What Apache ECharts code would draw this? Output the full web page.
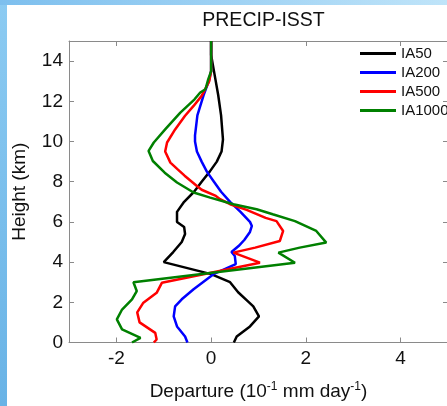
<!DOCTYPE html>
<html><head><meta charset="utf-8">
<script src="https://cdn.jsdelivr.net/npm/echarts@6/dist/echarts.min.js"></script>
<style>
html,body{margin:0;padding:0;width:447px;height:406px;overflow:hidden;background:#fff;}
#lb{position:absolute;left:0;top:0;width:7px;height:406px;background:linear-gradient(180deg,#8ccbf2,#69b3e6);}
#tb{position:absolute;left:0;top:0;width:447px;height:5px;background:linear-gradient(90deg,#7dbfee,#bfe4f9);}
#c{position:absolute;left:0;top:0;width:460px;height:406px;}
</style></head><body>
<div id="lb"></div><div id="tb"></div><div id="c"></div>
<script>
// Heights (km) and departures (10^-1 mm/day) per series
var seriesNames = ['IA50', 'IA200', 'IA500', 'IA1000'];
var xTicks = [-2, 0, 2, 4];
var yTicks = [0, 2, 4, 6, 8, 10, 12, 14];

var ia50H = [15, 14.3, 13.5, 12.3, 11.3, 10.1, 9.5, 9.0, 8.5, 8.0, 7.5, 7.0, 6.5, 6.0, 5.75, 5.4, 5.0, 4.5, 4.0, 3.4, 3.0, 2.5, 2.0, 1.8, 1.3, 0.8, 0.3, 0];
var ia50V = [0, 0, 0.06, 0.15, 0.21, 0.25, 0.22, 0.12, -0.03, -0.2, -0.36, -0.57, -0.72, -0.72, -0.57, -0.55, -0.62, -0.8, -1.0, 0.0, 0.4, 0.57, 0.8, 0.89, 1.01, 0.82, 0.54, 0.48];

var ia200H = [15, 14, 13.5, 13, 12.3, 11.3, 10.3, 10.0, 9.5, 9.0, 8.5, 8.0, 7.5, 7.0, 6.5, 6.0, 5.8, 5.5, 5.1, 4.8, 4.5, 4.3, 3.9, 3.4, 2.65, 2.15, 1.8, 1.3, 0.8, 0.3, 0];
var ia200V = [0, 0, 0, -0.05, -0.16, -0.29, -0.34, -0.34, -0.3, -0.2, -0.09, 0.06, 0.21, 0.4, 0.62, 0.82, 0.86, 0.82, 0.7, 0.58, 0.43, 0.5, 0.52, 0.05, -0.37, -0.62, -0.76, -0.79, -0.72, -0.55, -0.5];

var ia500H = [15, 14, 13.5, 13, 12.77, 12.27, 11.77, 11.28, 10.6, 9.95, 9.5, 8.95, 8.6, 8.3, 7.79, 7.6, 7.29, 7.13, 6.88, 6.6, 6.2, 6.04, 5.55, 5.05, 4.72, 4.47, 3.97, 2.97, 2.47, 1.98, 1.5, 1.0, 0.48, 0.15, 0];
var ia500V = [0, 0, 0, -0.04, -0.09, -0.2, -0.37, -0.55, -0.76, -0.93, -0.97, -0.86, -0.7, -0.56, -0.3, -0.2, 0.1, 0.19, 0.4, 0.75, 1.15, 1.38, 1.52, 1.45, 0.93, 0.47, 1.03, -1.04, -1.15, -1.43, -1.56, -1.51, -1.18, -1.15, -1.21];

var ia1000H = [15, 13.5, 13.1, 12.6, 12.44, 12.1, 11.44, 10.6, 9.95, 9.53, 9.03, 8.45, 7.96, 7.46, 7.21, 6.88, 6.63, 6.38, 6.04, 5.55, 4.97, 4.72, 4.47, 3.97, 3.0, 2.56, 2.14, 1.64, 1.15, 0.65, 0.23, 0];
var ia1000V = [0, 0, -0.06, -0.12, -0.23, -0.35, -0.65, -0.97, -1.21, -1.32, -1.23, -0.98, -0.72, -0.37, -0.02, 0.47, 0.96, 1.3, 1.77, 2.22, 2.43, 1.87, 1.42, 1.77, -1.64, -1.57, -1.67, -1.88, -1.99, -1.88, -1.49, -1.67];

var colors = ['#000000', '#0000ff', '#ff0000', '#008000'];

function pairs(v, h) { return v.map(function (x, i) { return [x, h[i]]; }); }
var allH = [ia50H, ia200H, ia500H, ia1000H];
var allV = [ia50V, ia200V, ia500V, ia1000V];

var font = 'Liberation Sans, Arial, sans-serif';
var axisColor = '#8a8a8a';

function axisBase(showLabels, ticks) {
  return {
    axisLine: {show: true, onZero: false, lineStyle: {color: axisColor, width: 1}},
    axisTick: {show: true, inside: true, length: 5, customValues: ticks, lineStyle: {color: axisColor}},
    axisLabel: showLabels ? {customValues: ticks, fontFamily: font, fontSize: 19, color: '#111', margin: 6} : {show: false},
    splitLine: {show: false}
  };
}

var x0 = Object.assign({type: 'value', min: -3, max: 5, position: 'bottom'}, axisBase(true, xTicks), {
  name: '{n|Departure (10}{s|-1}{n| mm day}{s|-1}{n|)}',
  nameLocation: 'middle', nameGap: 38,
  nameTextStyle: {
    rich: {
      n: {fontFamily: font, fontSize: 19, color: '#111', lineHeight: 22},
      s: {fontFamily: font, fontSize: 12, color: '#111', lineHeight: 22, verticalAlign: 'top', padding: [0, 0, 8, 0]}
    }
  }
});
x0.axisLabel.margin = 7;
var x1 = Object.assign({type: 'value', min: -3, max: 5, position: 'top'}, axisBase(false, xTicks));
var y0 = Object.assign({type: 'value', min: 0, max: 15, position: 'left'}, axisBase(true, yTicks), {
  name: 'Height (km)', nameLocation: 'middle', nameGap: 40, nameRotate: 90,
  nameTextStyle: {fontFamily: font, fontSize: 19, color: '#111'}
});
var y1 = Object.assign({type: 'value', min: 0, max: 15, position: 'right'}, axisBase(false, yTicks));

var chart = echarts.init(document.getElementById('c'), null, {renderer: 'canvas'});
chart.setOption({
  backgroundColor: 'transparent',
  animation: false,
  title: {
    text: 'PRECIP-ISST', left: 258.5, top: 6, textAlign: 'center',
    textStyle: {fontFamily: font, fontSize: 19.5, fontWeight: 'normal', color: '#111'}
  },
  legend: {
    data: seriesNames, orient: 'vertical', left: 360, top: 46, padding: 0,
    itemWidth: 36, itemHeight: 3, itemGap: 4, icon: 'rect',
    textStyle: {fontFamily: font, fontSize: 15, color: '#111', lineHeight: 15}
  },
  grid: {left: 69, top: 41, right: 12, bottom: 63, show: false},
  xAxis: [x0, x1],
  yAxis: [y0, y1],
  series: seriesNames.map(function (n, i) {
    return {
      name: n, type: 'line', xAxisIndex: 0, yAxisIndex: 0,
      data: pairs(allV[i], allH[i]), showSymbol: false, symbol: 'none',
      lineStyle: {color: colors[i], width: 2.5}, itemStyle: {color: colors[i]},
      z: 2 + i
    };
  })
});
</script></body></html>
